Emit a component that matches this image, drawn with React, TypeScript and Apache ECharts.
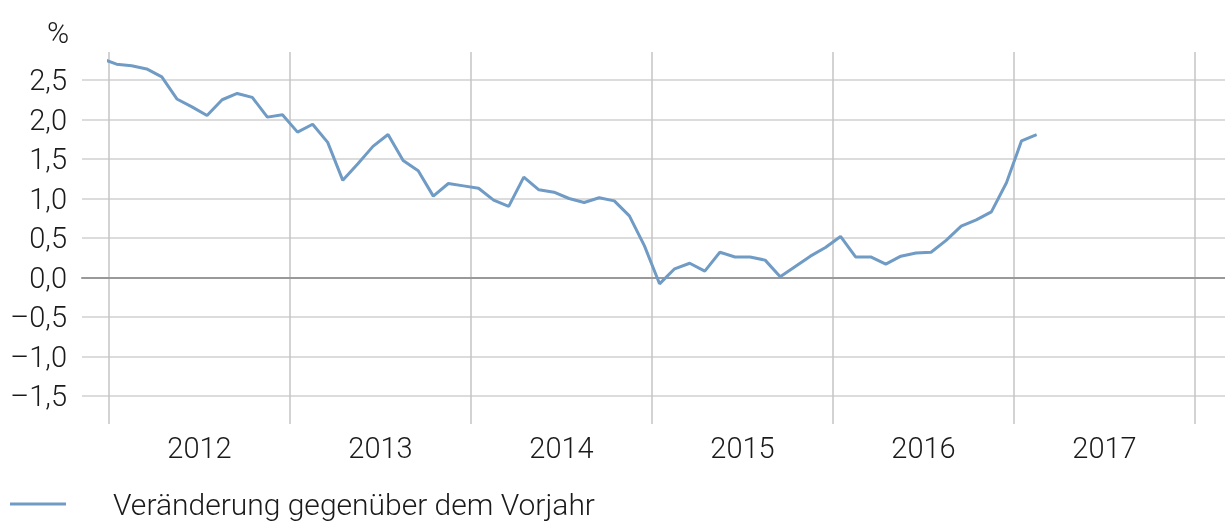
import React, { useEffect, useRef } from "react";
import * as echarts from "echarts";

const years = ["2012", "2013", "2014", "2015", "2016", "2017"];
// first value is December 2011 (month index -1 relative to January 2012)
const firstMonthIndex = -1;
const values = [
  2.77,
  2.7, 2.68, 2.64, 2.54, 2.26, 2.16, 2.05, 2.25, 2.33, 2.28, 2.03, 2.06,
  1.84, 1.94, 1.71, 1.23, 1.44, 1.66, 1.81, 1.48, 1.35, 1.03, 1.19, 1.16,
  1.13, 0.98, 0.9, 1.27, 1.11, 1.08, 1.0, 0.95, 1.01, 0.97, 0.78, 0.4,
  -0.08, 0.11, 0.18, 0.08, 0.32, 0.26, 0.26, 0.22, 0.01, 0.14, 0.27, 0.38,
  0.52, 0.26, 0.26, 0.17, 0.27, 0.31, 0.32, 0.47, 0.65, 0.73, 0.83, 1.2,
  1.73, 1.81,
];
const yMin = -1.5;
const yMax = 2.5;
const yStep = 0.5;
const seriesName = "Veränderung gegenüber dem Vorjahr";
const unitLabel = "%";

const FONT = "Roboto";

export default function App() {
  const ref = useRef<HTMLDivElement>(null);
  useEffect(() => {
    if (!ref.current) return;
    const chart = echarts.init(ref.current, null, { renderer: "svg" });

    // layout (pixels)
    const plotTop = 52;
    const plotBottom = 424;
    const gridTop = 80; // yMax
    const gridBottom = 396; // yMin
    const pxPerUnit = (gridBottom - gridTop) / (yMax - yMin);
    const yMaxA = yMax + (gridTop - plotTop) / pxPerUnit;
    const yMinA = yMin - (plotBottom - gridBottom) / pxPerUnit;

    const data = values.map((v, i) => [firstMonthIndex + i + 0.5, v]);

    const fmt = (v: number) =>
      v.toFixed(1).replace(".", ",").replace("-", "\u2013");

    chart.setOption({
      animation: false,
      textStyle: { fontFamily: FONT, fontWeight: 300 },
      title: {
        text: unitLabel,
        left: 42,
        top: 12,
        textStyle: { fontFamily: FONT, fontWeight: 300, fontSize: 30, color: "#1a1a1a" },
      },
      legend: {
        left: 10,
        top: 487,
        padding: 0,
        icon: "rect",
        itemWidth: 56,
        itemHeight: 3,
        data: [seriesName],
        textStyle: {
          fontFamily: FONT,
          fontWeight: 300,
          fontSize: 30,
          lineHeight: 34,
          color: "#1a1a1a",
          padding: [0, 0, 0, 42],
        },
      },
      grid: [
        { left: 109, right: 30, top: plotTop, height: plotBottom - plotTop },
        { left: 82, right: 0, top: gridTop, height: gridBottom - gridTop },
      ],
      xAxis: [
        {
          type: "value",
          gridIndex: 0,
          min: 0,
          max: years.length * 12,
          interval: 12,
          axisLine: { show: false },
          axisTick: { show: false },
          axisLabel: { show: false },
          splitLine: { show: true, lineStyle: { color: "#c4c4c4", width: 1.5 } },
        },
        {
          type: "category",
          gridIndex: 0,
          position: "bottom",
          data: years,
          boundaryGap: true,
          axisLine: { show: false },
          axisTick: { show: false },
          splitLine: { show: false },
          axisLabel: {
            margin: 9,
            fontFamily: FONT,
            fontWeight: 300,
            fontSize: 29,
            color: "#1a1a1a",
          },
        },
        {
          type: "value",
          gridIndex: 1,
          min: 0,
          max: 1,
          axisLine: { show: true, onZero: true, lineStyle: { color: "#999999", width: 2 } },
          axisTick: { show: false },
          axisLabel: { show: false },
          splitLine: { show: false },
        },
      ],
      yAxis: [
        {
          type: "value",
          gridIndex: 0,
          min: yMinA,
          max: yMaxA,
          show: false,
          splitLine: { show: false },
        },
        {
          type: "value",
          gridIndex: 1,
          min: yMin,
          max: yMax,
          interval: yStep,
          axisLine: { show: false },
          axisTick: { show: false },
          splitLine: { show: true, lineStyle: { color: "#d0d0d0", width: 1.5 } },
          axisLabel: {
            margin: 15,
            formatter: fmt,
            fontFamily: FONT,
            fontWeight: 300,
            fontSize: 29,
            color: "#1a1a1a",
          },
        },
      ],
      series: [
        {
          name: seriesName,
          type: "line",
          xAxisIndex: 0,
          yAxisIndex: 0,
          data,
          symbol: "none",
          clip: true,
          lineStyle: { color: "#6f9bc5", width: 3 },
          itemStyle: { color: "#6f9bc5" },
          z: 5,
        },
      ],
    });
    return () => chart.dispose();
  }, []);
  return (
    <div
      ref={ref}
      style={{ position: "fixed", left: 0, top: 0, width: 1225, height: 523 }}
    />
  );
}
